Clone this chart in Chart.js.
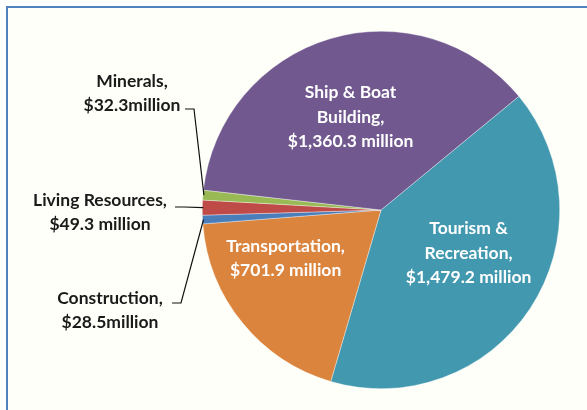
<!DOCTYPE html>
<html>
<head>
<meta charset="utf-8">
<script src="https://cdn.jsdelivr.net/npm/chart.js@4/dist/chart.umd.min.js"></script>
<style>
  html, body { margin: 0; padding: 0; background: #ffffff; }
  #wrap { position: relative; width: 587px; height: 410px; overflow: hidden; background: #ffffff; }
  #frame { position: absolute; left: 6px; top: 6px; width: 600px; height: 420px;
           border: 2px solid #4F81BD; background: #fffff9; box-sizing: border-box; }
  #c { position: absolute; left: 0; top: 0; }
</style>
</head>
<body>
<div id="wrap">
  <div id="frame"></div>
  <canvas id="c" width="587" height="410"></canvas>
</div>
<script>
// ---- data ----
const categories = ['Tourism & Recreation', 'Transportation', 'Construction', 'Living Resources', 'Minerals', 'Ship & Boat Building'];
const values = [1479.2, 701.9, 28.5, 49.3, 32.3, 1360.3];
const labelTexts = [
  ['Tourism &', 'Recreation,', '$1,479.2 million'],
  ['Transportation,', '$701.9 million'],
  ['Construction,', '$28.5million'],
  ['Living Resources,', '$49.3 million'],
  ['Minerals,', '$32.3million'],
  ['Ship & Boat', 'Building,', '$1,360.3 million']
];
const colors = ['#4198AF', '#DB843D', '#4A7EBB', '#BE4B48', '#98B954', '#71588F'];

// label placement styles (inside: offset from arc label point; outside: text block + leader)
const labelStyle = [
  { inside: true, dx: 13, dy: -6 },
  { inside: true, dx: -26, dy: -8 },
  { inside: false, tx: 110, ty: 298, lx: 172, ly: 303 },
  { inside: false, tx: 100, ty: 200, lx: 175, ly: 207 },
  { inside: false, tx: 132, ty: 81, lx: 185, ly: 109 },
  { inside: true, dx: -5, dy: -7 }
];

const labelPlugin = {
  id: 'sliceLabels',
  afterDatasetsDraw(chart) {
    const ctx = chart.ctx;
    const meta = chart.getDatasetMeta(0);
    ctx.save();
    ctx.font = 'bold 17.5px Lato, "Liberation Sans", sans-serif';
    ctx.textAlign = 'center';
    ctx.textBaseline = 'middle';
    const lh = 24.5;
    meta.data.forEach((arc, i) => {
      const st = labelStyle[i];
      const lines = labelTexts[i];
      if (st.inside) {
        const p = arc.tooltipPosition();
        const cx = p.x + st.dx, cy = p.y + st.dy;
        const y0 = cy - (lines.length - 1) * lh / 2;
        ctx.fillStyle = '#FFFFFF';
        lines.forEach((t, k) => ctx.fillText(t, cx, y0 + k * lh));
      } else {
        const mid = (arc.startAngle + arc.endAngle) / 2;
        const ex = arc.x + Math.cos(mid) * (arc.outerRadius - 1);
        const ey = arc.y + Math.sin(mid) * (arc.outerRadius - 1);
        ctx.strokeStyle = '#111111';
        ctx.lineWidth = 1.2;
        ctx.beginPath();
        ctx.moveTo(st.lx, st.ly);
        ctx.lineTo(st.lx + 9, st.ly);
        ctx.lineTo(ex, ey);
        ctx.stroke();
        ctx.fillStyle = '#1a1a1a';
        lines.forEach((t, k) => ctx.fillText(t, st.tx, st.ty + k * 24.5));
      }
    });
    ctx.restore();
  }
};

new Chart(document.getElementById('c'), {
  type: 'pie',
  data: {
    labels: categories,
    datasets: [{
      data: values,
      backgroundColor: colors,
      borderColor: 'rgba(255,255,255,0.6)',
      borderWidth: 0.6
    }]
  },
  options: {
    responsive: false,
    animation: false,
    rotation: 50.5,
    layout: { padding: { left: 202, right: 27, top: 31, bottom: 21 } },
    plugins: { legend: { display: false }, tooltip: { enabled: false } }
  },
  plugins: [labelPlugin]
});
</script>
</body>
</html>
